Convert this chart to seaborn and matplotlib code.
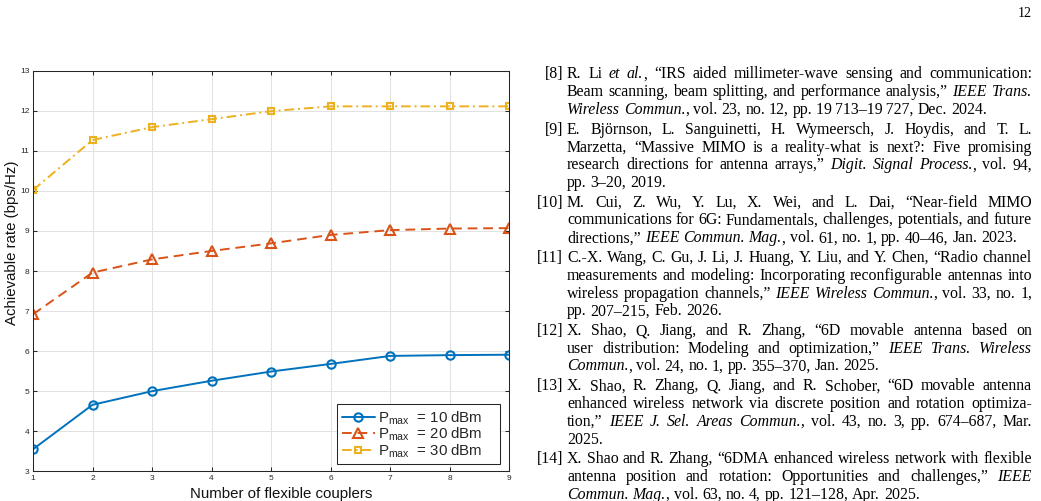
import matplotlib
matplotlib.use("Agg")
import pandas as pd
import seaborn as sns
import matplotlib.pyplot as plt

# chart data
couplers = [1, 2, 3, 4, 5, 6, 7, 8, 9]
rate_10dbm = [3.55, 4.66, 5.00, 5.26, 5.49, 5.68, 5.88, 5.90, 5.91]
rate_20dbm = [6.92, 7.96, 8.29, 8.50, 8.69, 8.90, 9.02, 9.06, 9.07]
rate_30dbm = [10.02, 11.27, 11.59, 11.79, 11.99, 12.11, 12.11, 12.11, 12.11]
series_labels = [r"P$_{\mathregular{max}}$  = 10 dBm",
                 r"P$_{\mathregular{max}}$  = 20 dBm",
                 r"P$_{\mathregular{max}}$  = 30 dBm"]
y_ticks = list(range(3, 14))
x_label = "Number of flexible couplers"
y_label = "Achievable rate (bps/Hz)"
page_number = "12"

# reference list on the right (*...* = italic)
ref_tags = ["[8]", "[9]", "[10]", "[11]", "[12]", "[13]", "[14]"]
ref_lines = [
    ["R. Li *et al.*, “IRS aided millimeter-wave sensing and communication:",
     "Beam scanning, beam splitting, and performance analysis,” *IEEE Trans.*",
     "*Wireless Commun.*, vol. 23, no. 12, pp. 19\u2009713–19\u2009727, Dec. 2024."],
    ["E. Björnson, L. Sanguinetti, H. Wymeersch, J. Hoydis, and T. L.",
     "Marzetta, “Massive MIMO is a reality-what is next?: Five promising",
     "research directions for antenna arrays,” *Digit. Signal Process.*, vol. 94,",
     "pp. 3–20, 2019."],
    ["M. Cui, Z. Wu, Y. Lu, X. Wei, and L. Dai, “Near-field MIMO",
     "communications for 6G: Fundamentals, challenges, potentials, and future",
     "directions,” *IEEE Commun. Mag.*, vol. 61, no. 1, pp. 40–46, Jan. 2023."],
    ["C.-X. Wang, C. Gu, J. Li, J. Huang, Y. Liu, and Y. Chen, “Radio channel",
     "measurements and modeling: Incorporating reconfigurable antennas into",
     "wireless propagation channels,” *IEEE Wireless Commun.*, vol. 33, no. 1,",
     "pp. 207–215, Feb. 2026."],
    ["X. Shao, Q. Jiang, and R. Zhang, “6D movable antenna based on",
     "user distribution: Modeling and optimization,” *IEEE Trans. Wireless*",
     "*Commun.*, vol. 24, no. 1, pp. 355–370, Jan. 2025."],
    ["X. Shao, R. Zhang, Q. Jiang, and R. Schober, “6D movable antenna",
     "enhanced wireless network via discrete position and rotation optimiza-",
     "tion,” *IEEE J. Sel. Areas Commun.*, vol. 43, no. 3, pp. 674–687, Mar.",
     "2025."],
    ["X. Shao and R. Zhang, “6DMA enhanced wireless network with flexible",
     "antenna position and rotation: Opportunities and challenges,” *IEEE*",
     "*Commun. Mag.*, vol. 63, no. 4, pp. 121–128, Apr. 2025."],
]

W, H = 1041, 501
sns.set_theme(style="whitegrid", rc={
    "axes.edgecolor": "#262626",
    "axes.linewidth": 0.75,
    "grid.color": "#e2e2e2",
    "grid.linewidth": 0.75,
})
plt.rcParams["font.family"] = ["Liberation Sans", "DejaVu Sans"]
plt.rcParams["mathtext.fontset"] = "custom"
plt.rcParams["mathtext.rm"] = "Liberation Sans"

fig = plt.figure(figsize=(W / 100, H / 100), dpi=100)
fig.patch.set_facecolor("white")
ax = fig.add_axes([33 / W, 1 - 471.3 / H, 476 / W, 400.6 / H])

df = pd.DataFrame({"N": couplers * 3,
                   "rate": rate_10dbm + rate_20dbm + rate_30dbm,
                   "series": sum([[s] * len(couplers) for s in series_labels], [])})

colors = ["#0072BD", "#D95319", "#EDB120"]
styles = ["-", (0, (5, 3)), (0, (5, 2, 1, 2))]
markers = ["o", "^", "s"]
msizes = [6, 6.5, 5]
for lab, c, ls, m, ms in zip(series_labels, colors, styles, markers, msizes):
    sns.lineplot(data=df[df["series"] == lab], x="N", y="rate", ax=ax,
                 color=c, linestyle=ls, linewidth=1.4, marker=m,
                 markersize=ms, markerfacecolor="none", markeredgecolor=c,
                 markeredgewidth=1.5, label=lab + "    ")

ax.set_xlim(1, 9)
ax.set_ylim(3, 13)
ax.set_xticks(couplers)
ax.set_yticks(y_ticks)
ax.grid(True, color="#e2e2e2", linewidth=0.75)
for sp in ax.spines.values():
    sp.set_visible(True)
    sp.set_color("#262626")
    sp.set_linewidth(0.75)
ax.tick_params(axis="both", which="major", direction="in", length=3, width=0.75,
               top=True, right=True, bottom=True, left=True,
               labelsize=6, colors="#262626", pad=2.5)

ax.set_xlabel(x_label, fontsize=10.8, color="#111111")
ax.set_ylabel(y_label, fontsize=10.8, color="#111111")
ax.xaxis.set_label_coords(0.521, -0.039)
ax.yaxis.set_label_coords(-0.03, 0.57)

leg = ax.legend(loc="lower right", bbox_to_anchor=(0.981, 0.018), fontsize=10.8,
                frameon=True, fancybox=False, framealpha=1, edgecolor="#262626",
                handlelength=2.2, handletextpad=0.2, labelspacing=-0.08,
                borderpad=0.3, borderaxespad=0)
leg.get_frame().set_linewidth(0.75)

# reference text, justified like the page
serif = ["Liberation Serif", "DejaVu Serif"]
ref_size = 11.4
left_x, right_x, tag_x = 567, 1032, 563
line_step, item_gap, first_base = 17.75, 2.0, 78.5
space_w = 0.25 * ref_size * 100 / 72
renderer = fig.canvas.get_renderer()


def measure(s, italic):
    t = fig.text(0, 0, s, fontsize=ref_size, family=serif,
                 style="italic" if italic else "normal")
    w = t.get_window_extent(renderer).width
    t.remove()
    return w


def parse(line):
    words, italic = [], False
    for tok in line.split(" "):
        segs = []
        for k, p in enumerate(tok.split("*")):
            if k > 0:
                italic = not italic
            if p:
                segs.append((p, italic))
        words.append(segs)
    return words


row = 0
for r, (tag, lines) in enumerate(zip(ref_tags, ref_lines)):
    for li, line in enumerate(lines):
        base = first_base + row * line_step + r * item_gap
        if li == 0:
            fig.text(tag_x / W, 1 - base / H, tag, fontsize=ref_size, family=serif,
                     ha="right", va="baseline", color="black")
        words = parse(line)
        widths = [[measure(s, it) for s, it in w] for w in words]
        total = sum(sum(w) for w in widths)
        fill = (right_x - left_x - total) / max(len(words) - 1, 1)
        last = li == len(lines) - 1
        gap = min(space_w, fill) if last else fill
        x = left_x
        for segs, ws in zip(words, widths):
            for (s, it), sw in zip(segs, ws):
                fig.text(x / W, 1 - base / H, s, fontsize=ref_size, family=serif,
                         style="italic" if it else "normal",
                         ha="left", va="baseline", color="black")
                x += sw
            x += gap
        row += 1

fig.text(1032 / W, 1 - 17 / H, page_number, fontsize=10, family=serif,
         ha="right", va="baseline", color="black")

fig.savefig("out.png", dpi=100, facecolor="white")
